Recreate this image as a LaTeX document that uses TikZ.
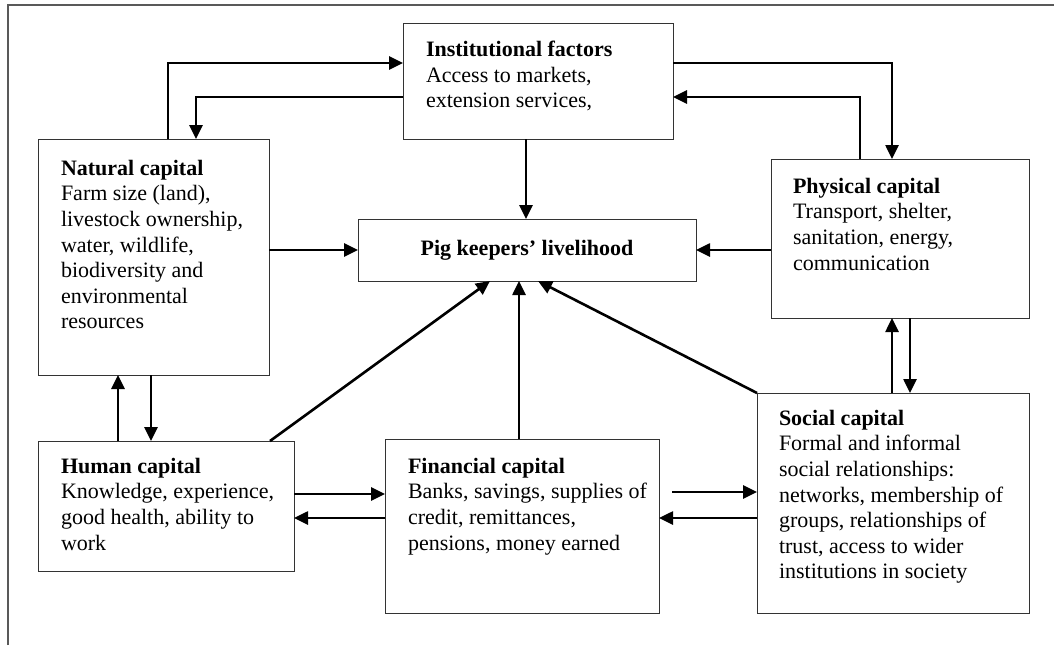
\documentclass[tikz,border=0pt]{standalone}
\usepackage{fontspec}
\setmainfont{Liberation Serif}
\usetikzlibrary{arrows.meta,calc}
\begin{document}
\begin{tikzpicture}[x=1pt,y=-1pt,
  box/.style={draw=black!80, line width=0.9pt, inner sep=0pt, outer sep=0pt, anchor=north west},
  txt/.style={inner sep=0pt, outer sep=0pt, anchor=north west, align=left, font=\fontsize{22}{25.6}\selectfont},
  arr/.style={draw=black, line width=2.6pt, -{Triangle[length=14pt,width=13pt]}},
  frame/.style={draw=black!65, line width=1.4pt}]
\useasboundingbox (0,0) rectangle (1054,645);
\draw[frame] (8,645) -- (8,5) -- (1054,5);
% boxes
\node[box, minimum width=270pt, minimum height=116pt] (inst) at (403,23) {};
\node[box, minimum width=231pt, minimum height=236pt] (nat) at (38,139) {};
\node[box, minimum width=258pt, minimum height=159pt] (phys) at (771,159) {};
\node[box, minimum width=338pt, minimum height=62pt] (pig) at (358,219) {};
\node[box, minimum width=256pt, minimum height=130pt] (hum) at (38,441) {};
\node[box, minimum width=274pt, minimum height=174pt] (fin) at (385,439) {};
\node[box, minimum width=272pt, minimum height=220pt] (soc) at (757,393) {};
% texts
\node[txt] (instt) at ([xshift=23pt,yshift=-18pt]inst.north west) {\textbf{Institutional factors}\\Access to markets,\\extension services,};
\node[txt] (natt) at ([xshift=23pt,yshift=-21pt]nat.north west) {\textbf{Natural capital}\\Farm size (land),\\livestock ownership,\\water, wildlife,\\biodiversity and\\environmental\\resources};
\node[txt] (physt) at ([xshift=22pt,yshift=-19pt]phys.north west) {\textbf{Physical capital}\\Transport, shelter,\\sanitation, energy,\\communication};
\node[font=\fontsize{22}{25.6}\selectfont\bfseries, inner sep=0pt] (pigt) at (pig.center) {Pig keepers’ livelihood};
\node[txt] (humt) at ([xshift=23pt,yshift=-17pt]hum.north west) {\textbf{Human capital}\\Knowledge, experience,\\good health, ability to\\work};
\node[txt] (fint) at ([xshift=23pt,yshift=-19pt]fin.north west) {\textbf{Financial capital}\\Banks, savings, supplies of\\credit, remittances,\\pensions, money earned};
\node[txt] (soct) at ([xshift=22pt,yshift=-17pt]soc.north west) {\textbf{Social capital}\\Formal and informal\\social relationships:\\networks, membership of\\groups, relationships of\\trust, access to wider\\institutions in society};
% connectors
\draw[arr] ([xshift=130pt]nat.north west) |- ([yshift=-40pt]inst.north west);
\draw[arr] ([yshift=-74pt]inst.north west) -| ([xshift=158pt]nat.north west);
\draw[arr] ([yshift=-40pt]inst.north east) -| ([xshift=121pt]phys.north west);
\draw[arr] ([xshift=89pt]phys.north west) |- ([yshift=-74pt]inst.north east);
\draw[arr] ([xshift=123pt]inst.south west) coordinate (t) -- (t |- pig.north);
\draw[arr] (pig.west -| nat.east) -- (pig.west);
\draw[arr] (pig.east -| phys.west) -- (pig.east);
\draw[arr] ([xshift=232pt]hum.north west) -- ([xshift=132pt]pig.south west);
\draw[arr] ([xshift=134pt]fin.north west) coordinate (f) -- (f |- pig.south);
\draw[arr] (soc.north west) -- ([xshift=180pt]pig.south west);
\draw[arr] ([xshift=80pt]hum.north west) coordinate (h) -- (h |- nat.south);
\draw[arr] ([xshift=113pt]nat.south west) coordinate (n) -- (n |- hum.north);
\draw[arr] ([yshift=-53pt]hum.north east) coordinate (a) -- (a -| fin.west);
\draw[arr] ([yshift=-79pt]fin.north west) coordinate (b) -- (b -| hum.east);
\draw[arr] ([xshift=13pt,yshift=-53pt]fin.north east) coordinate (c) -- (c -| soc.west);
\draw[arr] ([yshift=-125pt]soc.north west) coordinate (d) -- (d -| fin.east);
\draw[arr] ([xshift=135pt]soc.north west) coordinate (e) -- (e |- phys.south);
\draw[arr] ([xshift=139pt]phys.south west) coordinate (g) -- (g |- soc.north);
\end{tikzpicture}
\end{document}
